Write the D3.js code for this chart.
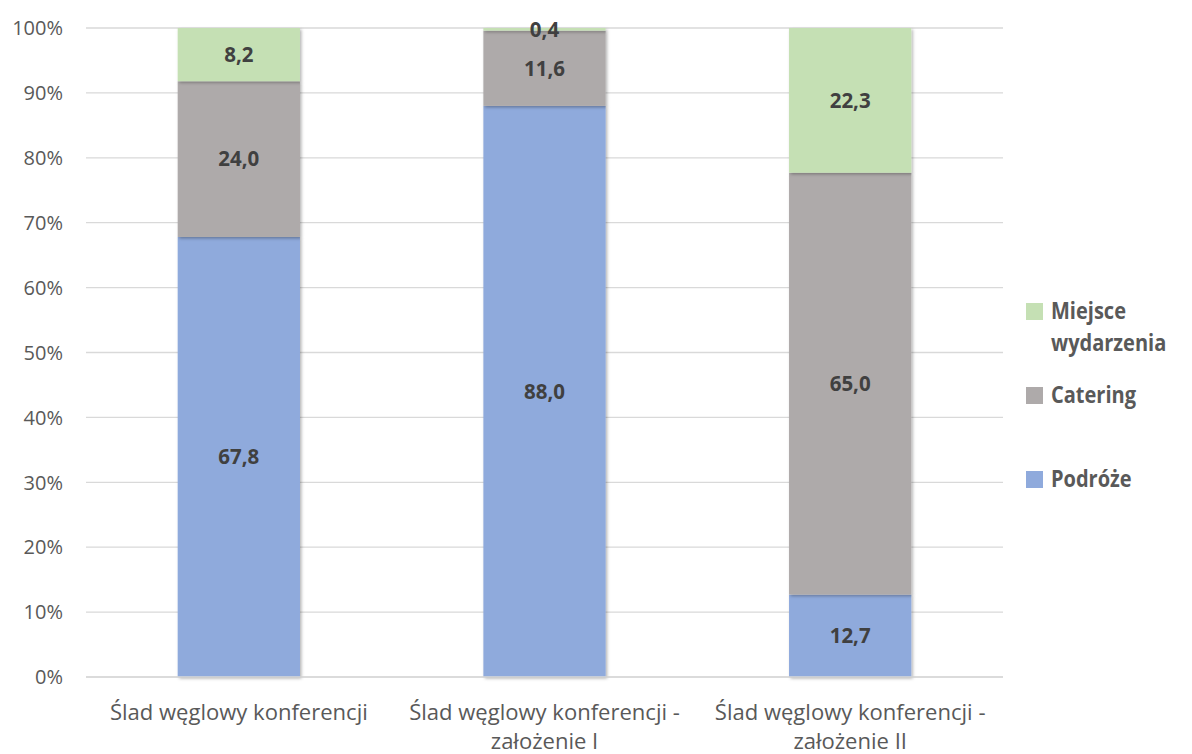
<!DOCTYPE html>
<html>
<head>
<meta charset="utf-8">
<script src="https://cdn.jsdelivr.net/npm/d3@7"></script>
<style>
  html, body { margin: 0; padding: 0; background: #fff; }
  svg { display: block; font-family: "Open Sans", Lato, sans-serif; }
</style>
</head>
<body>
<svg id="chart" width="1192" height="754"></svg>
<script>
// Carbon footprint breakdown, stacked to 100%
const categories = [
  "Ślad węglowy konferencji",
  "Ślad węglowy konferencji - założenie I",
  "Ślad węglowy konferencji - założenie II"
];
const seriesNames = ["Podróże", "Catering", "Miejsce wydarzenia"];
const podroze = [67.8, 88.0, 12.7];
const catering = [24.0, 11.6, 65.0];
const miejsce = [8.2, 0.4, 22.3];
const yTicks = [0, 10, 20, 30, 40, 50, 60, 70, 80, 90, 100];
const colors = ["#8FAADC", "#AEAAAA", "#C5E0B4"];

const rows = categories.map((c, i) => ({
  cat: c, "Podróże": podroze[i], "Catering": catering[i], "Miejsce wydarzenia": miejsce[i]
}));

const svg = d3.select("#chart");
const margin = { left: 86, right: 189, top: 28, bottom: 77 };
const W = 1192, H = 754;

const x = d3.scaleBand()
  .domain(categories)
  .range([margin.left, W - margin.right])
  .paddingInner(0.6)
  .paddingOuter(0.3);

const y = d3.scaleLinear().domain([0, 100]).range([H - margin.bottom, margin.top]);

// soft drop shadow for the bars
const defs = svg.append("defs");
const f = defs.append("filter").attr("id", "shadow")
  .attr("x", "-10%").attr("y", "-10%").attr("width", "130%").attr("height", "130%");
f.append("feDropShadow").attr("dx", 1.5).attr("dy", 1.5).attr("stdDeviation", 1.5)
  .attr("flood-color", "#000").attr("flood-opacity", 0.3);

// gridlines
svg.append("g").selectAll("line").data(yTicks).join("line")
  .attr("x1", margin.left).attr("x2", W - margin.right)
  .attr("y1", d => y(d)).attr("y2", d => y(d))
  .attr("stroke", "#D9D9D9").attr("stroke-width", 1.3);

// y axis labels
svg.append("g").selectAll("text").data(yTicks).join("text")
  .attr("x", 63).attr("y", d => y(d))
  .attr("dy", "0.36em")
  .attr("text-anchor", "end")
  .attr("fill", "#595959")
  .attr("font-size", 20)
  .text(d => d + "%");

const stack = d3.stack().keys(seriesNames);
const layers = stack(rows);

const g = svg.append("g");
layers.forEach((layer, li) => {
  g.append("g").attr("filter", "url(#shadow)")
    .selectAll("rect").data(layer).join("rect")
    .attr("x", d => x(d.data.cat))
    .attr("width", x.bandwidth())
    .attr("y", d => y(d[1]))
    .attr("height", d => y(d[0]) - y(d[1]))
    .attr("fill", colors[li]);
});

// value labels
layers.forEach((layer) => {
  g.append("g").selectAll("text").data(layer).join("text")
    .attr("x", d => x(d.data.cat) + x.bandwidth() / 2)
    .attr("y", d => (y(d[0]) + y(d[1])) / 2)
    .attr("dy", "0.36em")
    .attr("text-anchor", "middle")
    .attr("font-weight", "bold")
    .attr("font-size", 20.5)
    .attr("fill", "#404040")
    .text(d => (d[1] - d[0]).toFixed(1).replace(".", ","));
});

// baseline axis
svg.append("line")
  .attr("x1", margin.left).attr("x2", W - margin.right)
  .attr("y1", y(0)).attr("y2", y(0))
  .attr("stroke", "#D9D9D9").attr("stroke-width", 1.3);

// category labels, broken after the dash
categories.forEach(c => {
  const parts = c.split(" - ");
  const lines = parts.length > 1 ? [parts[0] + " -", parts[1]] : [c];
  const cx = x(c) + x.bandwidth() / 2;
  lines.forEach((ln, i) => {
    svg.append("text")
      .attr("transform", `translate(${cx},${720 + i * 29}) scale(1.05,1)`)
      .attr("text-anchor", "middle")
      .attr("fill", "#595959")
      .attr("font-size", 21)
      .text(ln);
  });
});

// legend, top to bottom
const legendItems = [
  { lines: ["Miejsce", "wydarzenia"], color: colors[2], y: 303 },
  { lines: ["Catering"], color: colors[1], y: 387 },
  { lines: ["Podróże"], color: colors[0], y: 471 }
];
const lg = svg.append("g");
legendItems.forEach(it => {
  lg.append("rect").attr("x", 1026).attr("y", it.y).attr("width", 17).attr("height", 17).attr("fill", it.color);
  const t = lg.append("text")
    .attr("transform", `translate(1051,${it.y + 16}) scale(0.89,1)`)
    .attr("font-size", 22.5).attr("font-weight", "bold").attr("fill", "#595959");
  it.lines.forEach((ln, i) => {
    t.append("tspan").attr("x", 0).attr("y", i * 32).text(ln);
  });
});
</script>
</body>
</html>
